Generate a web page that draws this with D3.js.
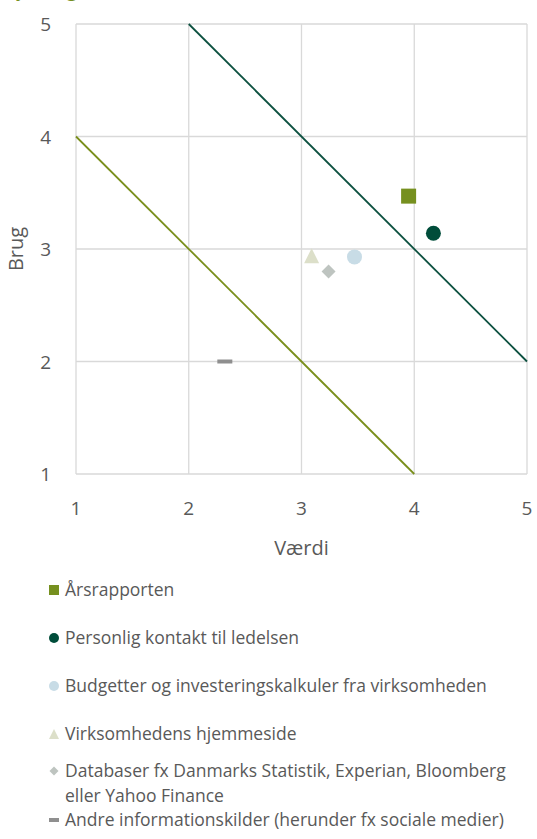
<!DOCTYPE html>
<html>
<head>
<meta charset="utf-8">
<script src="https://cdn.jsdelivr.net/npm/d3@7"></script>
<style>
  body { margin: 0; background: #fff; }
  svg text { font-family: "Open Sans", "Noto Sans", sans-serif; }
</style>
</head>
<body>
<div id="chart"></div>
<script>
// Data
const seriesNames = [
    "Årsrapporten",
    "Personlig kontakt til ledelsen",
    "Budgetter og investeringskalkuler fra virksomheden",
    "Virksomhedens hjemmeside",
    "Databaser fx Danmarks Statistik, Experian, Bloomberg eller Yahoo Finance",
    "Andre informationskilder (herunder fx sociale medier)"
];
const vaerdi = [3.95, 4.17, 3.47, 3.09, 3.24, 2.32];
const brug = [3.47, 3.14, 2.93, 2.94, 2.80, 2.00];
const markerTypes = ["square", "circle", "circle", "triangle", "diamond", "dash"];
const markerColors = ["#76901f", "#004d3a", "#c8dce6", "#dcdfc9", "#bec4c0", "#8f8f8f"];

// reference lines (x1, y1, x2, y2)
const refLineX = [[1, 4], [2, 5]];
const refLineY = [[4, 1], [5, 2]];
const refLineColors = ["#7a8f1c", "#0d5140"];

const ticks = [1, 2, 3, 4, 5];

const width = 537, height = 839;

const svg = d3.select("#chart").append("svg")
    .attr("width", width)
    .attr("height", height);

// cropped title at the top edge
svg.append("text")
    .attr("x", 2)
    .attr("y", -3)
    .attr("fill", "#76901f")
    .attr("font-size", 19)
    .text("Nytte og værdi");

const x = d3.scaleLinear().domain([1, 5]).range([76, 527]);
const y = d3.scaleLinear().domain([1, 5]).range([474, 24]);

// grid
svg.append("g")
    .selectAll("line")
    .data(ticks)
    .enter().append("line")
    .attr("x1", d => x(d)).attr("x2", d => x(d))
    .attr("y1", y(5)).attr("y2", y(1))
    .attr("stroke", "#d9d9d9").attr("stroke-width", 1.3);

svg.append("g")
    .selectAll("line")
    .data(ticks)
    .enter().append("line")
    .attr("x1", x(1)).attr("x2", x(5))
    .attr("y1", d => y(d)).attr("y2", d => y(d))
    .attr("stroke", "#d9d9d9").attr("stroke-width", 1.3);

// tick labels
svg.append("g").selectAll("text")
    .data(ticks)
    .enter().append("text")
    .attr("x", 51)
    .attr("y", d => y(d) + 7)
    .attr("text-anchor", "end")
    .attr("font-size", 19)
    .attr("fill", "#595959")
    .text(d => d);

svg.append("g").selectAll("text")
    .data(ticks)
    .enter().append("text")
    .attr("x", d => x(d))
    .attr("y", 515)
    .attr("text-anchor", "middle")
    .attr("font-size", 19)
    .attr("fill", "#595959")
    .text(d => d);

// axis titles
svg.append("text")
    .attr("x", x(3))
    .attr("y", 555)
    .attr("text-anchor", "middle")
    .attr("font-size", 20)
    .attr("fill", "#595959")
    .text("Værdi");

svg.append("text")
    .attr("transform", `translate(23,${y(3)}) rotate(-90)`)
    .attr("text-anchor", "middle")
    .attr("font-size", 20)
    .attr("fill", "#595959")
    .text("Brug");

// diagonal lines
const line = d3.line().x(d => x(d[0])).y(d => y(d[1]));
refLineX.forEach((xs, i) => {
    svg.append("path")
        .attr("d", line([[xs[0], refLineY[i][0]], [xs[1], refLineY[i][1]]]))
        .attr("fill", "none")
        .attr("stroke", refLineColors[i])
        .attr("stroke-width", 1.8);
});

// marker drawing
function drawMarker(g, type, color, size) {
    const s = size;
    if (type === "square") {
        g.append("rect").attr("x", -s / 2).attr("y", -s / 2)
            .attr("width", s).attr("height", s).attr("fill", color);
    } else if (type === "circle") {
        g.append("circle").attr("r", s / 2).attr("fill", color);
    } else if (type === "triangle") {
        g.append("path")
            .attr("d", `M0,${-s / 2}L${s / 2},${s / 2}L${-s / 2},${s / 2}Z`)
            .attr("fill", color);
    } else if (type === "diamond") {
        g.append("path")
            .attr("d", `M0,${-s / 2}L${s / 2},0L0,${s / 2}L${-s / 2},0Z`)
            .attr("fill", color);
    } else if (type === "dash") {
        g.append("rect").attr("x", -s / 2).attr("y", -2)
            .attr("width", s).attr("height", 4).attr("fill", color);
    }
}

const sizes = { square: 15, circle: 15, triangle: 15, diamond: 14, dash: 15 };
seriesNames.forEach((name, i) => {
    const g = svg.append("g")
        .attr("transform", `translate(${x(vaerdi[i])},${y(brug[i])})`);
    drawMarker(g, markerTypes[i], markerColors[i], sizes[markerTypes[i]]);
});

// legend
const legendRows = [590, 638, 686, 734, 771, 820];
const legendSizes = { square: 10, circle: 10, triangle: 10, diamond: 9, dash: 10 };
const legendLines = [
    ["Årsrapporten"],
    ["Personlig kontakt til ledelsen"],
    ["Budgetter og investeringskalkuler fra virksomheden"],
    ["Virksomhedens hjemmeside"],
    ["Databaser fx Danmarks Statistik, Experian, Bloomberg", "eller Yahoo Finance"],
    ["Andre informationskilder (herunder fx sociale medier)"]
];
seriesNames.forEach((name, i) => {
    const row = svg.append("g").attr("transform", `translate(0,${legendRows[i]})`);
    const mg = row.append("g").attr("transform", "translate(54,0)");
    drawMarker(mg, markerTypes[i], markerColors[i], legendSizes[markerTypes[i]]);
    legendLines[i].forEach((t, j) => {
        row.append("text")
            .attr("x", 65)
            .attr("y", 6 + j * 24.5)
            .attr("font-size", 17.5)
            .attr("fill", "#595959")
            .text(t);
    });
});
</script>
</body>
</html>
